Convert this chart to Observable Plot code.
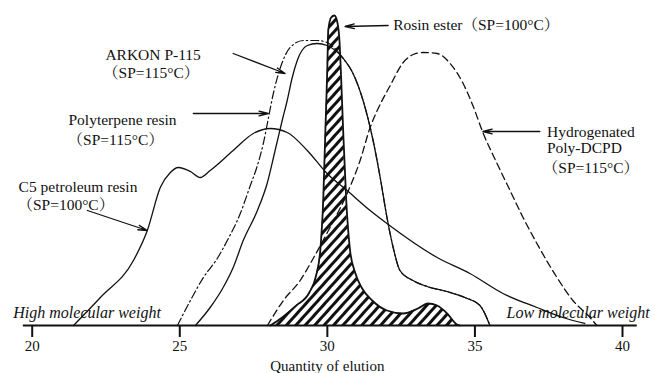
<!DOCTYPE html>
<html>
<head>
<meta charset="utf-8">
<script src="https://cdn.jsdelivr.net/npm/d3@7"></script>
<script src="https://cdn.jsdelivr.net/npm/@observablehq/plot@0.6"></script>
<style>
  html, body { margin: 0; padding: 0; background: #fff; }
  svg { display: block; }
</style>
</head>
<body>
<div id="chart"></div>
<script>
// ---- data (elution quantity vs. relative detector response) ----
const xTicks = [20, 25, 30, 35, 40];

const c5X = [21.40, 22.31, 23.43, 23.90, 24.34, 24.68, 24.95, 25.36, 25.69, 26.03, 26.81, 27.49, 28.06, 28.64, 29.32, 29.99, 30.67, 31.45, 32.02, 33.72, 34.83, 35.95, 37.10, 37.98, 38.72];
const c5Y = [0, 28, 65, 95, 138, 153, 158, 154, 148, 155, 175, 192, 197, 193, 175, 152, 135, 115, 102, 68, 52, 32, 18, 8, 2];

const arkonX = [25.53, 26.03, 26.47, 26.81, 27.15, 27.63, 27.96, 28.23, 28.47, 28.64, 28.81, 28.98, 29.32, 29.65, 29.99, 30.54, 30.87, 31.21, 31.55, 31.79, 32.02, 32.23, 32.46, 32.90, 33.38, 34.05, 34.66, 35.17, 35.51];
const arkonY = [0, 18, 38, 58, 85, 115, 142, 175, 205, 225, 248, 265, 280, 282, 280, 267, 252, 225, 185, 148, 108, 78, 55, 45, 39, 34, 28, 20, 0];

const terpX = [24.92, 25.36, 25.80, 26.27, 26.61, 27.05, 27.39, 27.63, 27.83, 28.00, 28.17, 28.41, 28.74, 29.19, 29.65, 29.99, 30.54, 30.87, 31.21, 31.55, 31.79, 32.02, 32.23, 32.46, 32.90, 33.38, 34.05, 34.66, 35.17, 35.51];
const terpY = [0, 25, 48, 67, 85, 112, 140, 160, 182, 207, 232, 258, 278, 285, 285, 283, 267, 252, 225, 185, 148, 108, 78, 55, 45, 39, 34, 28, 20, 0];

const dcpdX = [27.97, 28.51, 29.08, 29.52, 30.09, 30.67, 31.11, 31.45, 31.69, 32.13, 32.57, 32.91, 33.24, 33.72, 34.16, 34.60, 34.93, 35.27, 35.75, 36.19, 36.63, 37.10, 37.78, 38.32, 38.90, 39.13];
const dcpdY = [0, 25, 45, 67, 98, 132, 165, 198, 215, 240, 263, 271, 273, 272, 262, 242, 220, 193, 162, 135, 108, 82, 48, 25, 8, 0];

const rosinX = [28.07, 28.47, 28.95, 29.39, 29.62, 29.76, 29.86, 29.93, 30.00, 30.03, 30.13, 30.24, 30.34, 30.41, 30.47, 30.54, 30.64, 30.77, 30.94, 31.18, 31.52, 32.02, 32.57, 33.07, 33.41, 33.72, 34.06, 34.39, 34.49];
const rosinY = [0, 8, 20, 33, 50, 75, 125, 192, 258, 295, 308, 310, 303, 285, 245, 192, 125, 75, 53, 37, 25, 15, 12, 17, 22, 20, 12, 1, 0];

// annotation labels (data coordinates)
const labelText = ["Rosin ester（SP=100°C）", "ARKON P-115", "（SP=115°C）", "Polyterpene resin", "（SP=115°C）", "C5 petroleum resin", "（SP=100°C）", "Hydrogenated", "Poly-DCPD", "（SP=115°C）"];
const labelX = [32.23, 22.48, 22.40, 21.23, 21.20, 19.54, 19.50, 37.44, 37.44, 37.30];
const labelY = [300, 270, 252, 205, 185, 138, 120, 193, 177, 157];

// arrows: from label to curve
const arrowX1 = [32.06, 26.81, 25.46, 21.87, 37.20];
const arrowY1 = [300, 272, 212, 115, 194];
const arrowX2 = [30.60, 28.57, 28.00, 23.90, 35.27];
const arrowY2 = [299, 252, 212, 95, 194];

const sideText = ["High molecular weight", "Low molecular weight"];
const sideX = [19.36, 40.92];
const axisExtent = [19.7, 40.5];

// ---- tables ----
const toRows = (xs, ys) => xs.map((x, i) => ({x, y: ys[i]}));
const c5 = toRows(c5X, c5Y);
const arkon = toRows(arkonX, arkonY);
const terp = toRows(terpX, terpY);
const dcpd = toRows(dcpdX, dcpdY);
const rosin = toRows(rosinX, rosinY);
const labels = labelText.map((t, i) => ({t, x: labelX[i], y: labelY[i]}));
const arrows = arrowX1.map((x1, i) => ({x1, y1: arrowY1[i], x2: arrowX2[i], y2: arrowY2[i]}));

const ink = "#111";
const font = "Liberation Serif, 'Noto Serif CJK SC', 'Noto Sans CJK SC', serif";

const chart = Plot.plot({
  width: 655,
  height: 373,
  marginLeft: 31.7,
  marginRight: 33,
  marginTop: 5,
  marginBottom: 48,
  style: {fontFamily: font, fontSize: "15px", color: ink, background: "#fff"},
  x: {domain: [20, 40]},
  y: {domain: [0, 320], axis: null},
  marks: [
    Plot.areaY(rosin, {x: "x", y: "y", fill: "url(#hatch)", curve: "monotone-x"}),
    Plot.line(c5, {x: "x", y: "y", stroke: ink, strokeWidth: 1.3, curve: "monotone-x"}),
    Plot.line(terp, {x: "x", y: "y", stroke: ink, strokeWidth: 1.2, strokeDasharray: "8,3,1.5,3", curve: "monotone-x"}),
    Plot.line(arkon, {x: "x", y: "y", stroke: ink, strokeWidth: 1.3, curve: "monotone-x"}),
    Plot.line(dcpd, {x: "x", y: "y", stroke: ink, strokeWidth: 1.3, strokeDasharray: "7,4", curve: "monotone-x"}),
    Plot.line(rosin, {x: "x", y: "y", stroke: ink, strokeWidth: 1.8, curve: "monotone-x"}),
    Plot.ruleY([0], {x1: axisExtent[0], x2: axisExtent[1], stroke: ink, strokeWidth: 2}),
    Plot.axisX({ticks: xTicks, tickSize: 12, tickPadding: 3, tickFormat: d => d, fontSize: 15,
      strokeWidth: 2, label: "Quantity of elution", labelAnchor: "center", labelArrow: "none"}),
    Plot.arrow(arrows, {x1: "x1", y1: "y1", x2: "x2", y2: "y2", stroke: ink, strokeWidth: 1.3, headLength: 11, headAngle: 28}),
    Plot.text(labels, {x: "x", y: "y", text: "t", textAnchor: "start", fontSize: 15.5, fill: ink}),
    Plot.text([sideText[0]], {x: sideX[0], y: 13, text: d => d, textAnchor: "start", fontSize: 16, fontStyle: "italic", fill: ink}),
    Plot.text([sideText[1]], {x: sideX[1], y: 13, text: d => d, textAnchor: "end", fontSize: 16, fontStyle: "italic", fill: ink})
  ]
});

// hatch pattern for the rosin ester area
const svgNS = "http://www.w3.org/2000/svg";
const defs = document.createElementNS(svgNS, "defs");
defs.innerHTML = '<pattern id="hatch" patternUnits="userSpaceOnUse" width="7" height="7" patternTransform="rotate(42)"><rect x="2" y="0" width="3" height="7" fill="#111"/></pattern>';
chart.insertBefore(defs, chart.firstChild);

document.getElementById("chart").appendChild(chart);
</script>
</body>
</html>
